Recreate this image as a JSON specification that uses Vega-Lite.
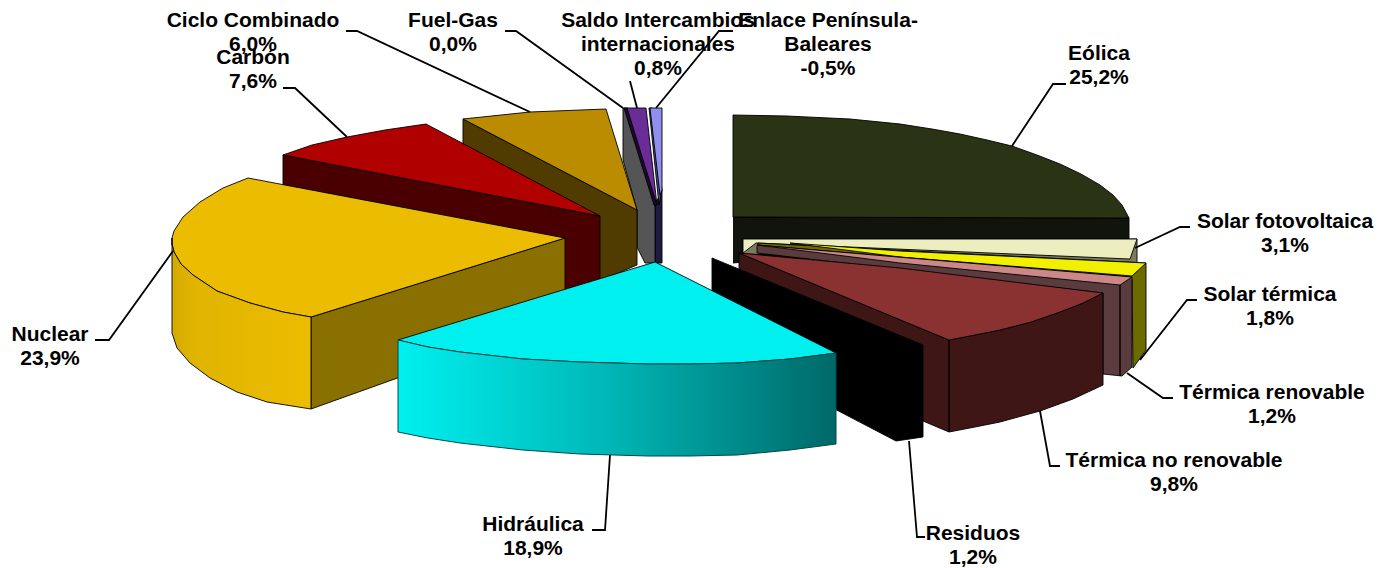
{"$schema":"https://vega.github.io/schema/vega-lite/v6.json","width":1391,"height":568,"padding":0,"autosize":{"type":"none"},"background":"white","config":{"view":{"stroke":null}},
"datasets":{
"shapes":[
{"part":"A Eólica lado","i":0,"x":733,"y":217},{"part":"A Eólica lado","i":1,"x":1129,"y":218},{"part":"A Eólica lado","i":2,"x":1129,"y":240},{"part":"A Eólica lado","i":3,"x":743,"y":262},{"part":"A Eólica lado","i":4,"x":733,"y":263},
{"part":"B Eólica","i":0,"x":733,"y":115},{"part":"B Eólica","i":1,"x":787,"y":116},{"part":"B Eólica","i":2,"x":850,"y":119},{"part":"B Eólica","i":3,"x":900,"y":124},{"part":"B Eólica","i":4,"x":932,"y":129},{"part":"B Eólica","i":5,"x":960,"y":134},{"part":"B Eólica","i":6,"x":987,"y":140},{"part":"B Eólica","i":7,"x":1012,"y":146},{"part":"B Eólica","i":8,"x":1037,"y":155},{"part":"B Eólica","i":9,"x":1060,"y":164},{"part":"B Eólica","i":10,"x":1081,"y":174},{"part":"B Eólica","i":11,"x":1100,"y":185},{"part":"B Eólica","i":12,"x":1113,"y":195},{"part":"B Eólica","i":13,"x":1122,"y":205},{"part":"B Eólica","i":14,"x":1129,"y":218},{"part":"B Eólica","i":15,"x":733,"y":217},{"part":"B Eólica","i":16,"x":733,"y":115},
{"part":"C Fotovoltaica lado","i":0,"x":743,"y":239},{"part":"C Fotovoltaica lado","i":1,"x":1137,"y":239},{"part":"C Fotovoltaica lado","i":2,"x":1137,"y":263},{"part":"C Fotovoltaica lado","i":3,"x":1130,"y":263},{"part":"C Fotovoltaica lado","i":4,"x":743,"y":254},{"part":"C Fotovoltaica lado","i":5,"x":743,"y":239},
{"part":"D Fotovoltaica","i":0,"x":743,"y":239},{"part":"D Fotovoltaica","i":1,"x":1137,"y":239},{"part":"D Fotovoltaica","i":2,"x":1130,"y":259},{"part":"D Fotovoltaica","i":3,"x":756,"y":243},{"part":"D Fotovoltaica","i":4,"x":743,"y":253},{"part":"D Fotovoltaica","i":5,"x":743,"y":239},
{"part":"E Térmica solar lado","i":0,"x":758,"y":243},{"part":"E Térmica solar lado","i":1,"x":1146,"y":263},{"part":"E Térmica solar lado","i":2,"x":1146,"y":350},{"part":"E Térmica solar lado","i":3,"x":1133,"y":368},{"part":"E Térmica solar lado","i":4,"x":1132,"y":280},{"part":"E Térmica solar lado","i":5,"x":758,"y":250},{"part":"E Térmica solar lado","i":6,"x":758,"y":243},
{"part":"F Térmica solar","i":0,"x":790,"y":243},{"part":"F Térmica solar","i":1,"x":900,"y":251},{"part":"F Térmica solar","i":2,"x":1146,"y":263},{"part":"F Térmica solar","i":3,"x":1132,"y":276},{"part":"F Térmica solar","i":4,"x":900,"y":257},{"part":"F Térmica solar","i":5,"x":790,"y":243},
{"part":"G Renovable lado","i":0,"x":757,"y":245},{"part":"G Renovable lado","i":1,"x":1132,"y":277},{"part":"G Renovable lado","i":2,"x":1132,"y":367},{"part":"G Renovable lado","i":3,"x":1122,"y":376},{"part":"G Renovable lado","i":4,"x":1103,"y":374},{"part":"G Renovable lado","i":5,"x":1103,"y":293},{"part":"G Renovable lado","i":6,"x":757,"y":253},{"part":"G Renovable lado","i":7,"x":757,"y":245},
{"part":"H Renovable","i":0,"x":757,"y":245},{"part":"H Renovable","i":1,"x":1132,"y":277},{"part":"H Renovable","i":2,"x":1120,"y":285},{"part":"H Renovable","i":3,"x":900,"y":263},{"part":"H Renovable","i":4,"x":757,"y":245},
{"part":"I Renovable borde","i":0,"x":1120,"y":285},{"part":"I Renovable borde","i":1,"x":1120,"y":376},{"part":"I Renovable borde","i":2,"x":1120,"y":285},
{"part":"J No renovable lado","i":0,"x":739,"y":253},{"part":"J No renovable lado","i":1,"x":949,"y":340},{"part":"J No renovable lado","i":2,"x":975,"y":335},{"part":"J No renovable lado","i":3,"x":1000,"y":330},{"part":"J No renovable lado","i":4,"x":1031,"y":322},{"part":"J No renovable lado","i":5,"x":1060,"y":312},{"part":"J No renovable lado","i":6,"x":1083,"y":303},{"part":"J No renovable lado","i":7,"x":1103,"y":293},{"part":"J No renovable lado","i":8,"x":1103,"y":385},{"part":"J No renovable lado","i":9,"x":1073,"y":399},{"part":"J No renovable lado","i":10,"x":1040,"y":411},{"part":"J No renovable lado","i":11,"x":1000,"y":422},{"part":"J No renovable lado","i":12,"x":975,"y":427},{"part":"J No renovable lado","i":13,"x":949,"y":432},{"part":"J No renovable lado","i":14,"x":923,"y":421},{"part":"J No renovable lado","i":15,"x":739,"y":270},{"part":"J No renovable lado","i":16,"x":739,"y":253},
{"part":"K No renovable","i":0,"x":739,"y":253},{"part":"K No renovable","i":1,"x":900,"y":268},{"part":"K No renovable","i":2,"x":1103,"y":293},{"part":"K No renovable","i":3,"x":1083,"y":303},{"part":"K No renovable","i":4,"x":1060,"y":312},{"part":"K No renovable","i":5,"x":1031,"y":322},{"part":"K No renovable","i":6,"x":1000,"y":330},{"part":"K No renovable","i":7,"x":975,"y":335},{"part":"K No renovable","i":8,"x":949,"y":340},{"part":"K No renovable","i":9,"x":739,"y":253},
{"part":"L Borde no renovable","i":0,"x":949,"y":340},{"part":"L Borde no renovable","i":1,"x":949,"y":432},{"part":"L Borde no renovable","i":2,"x":949,"y":340},
{"part":"M Residuos","i":0,"x":712,"y":258},{"part":"M Residuos","i":1,"x":923,"y":345},{"part":"M Residuos","i":2,"x":923,"y":437},{"part":"M Residuos","i":3,"x":896,"y":441},{"part":"M Residuos","i":4,"x":712,"y":345},{"part":"M Residuos","i":5,"x":712,"y":258},
{"part":"N Enlace lado","i":0,"x":655,"y":205},{"part":"N Enlace lado","i":1,"x":662,"y":190},{"part":"N Enlace lado","i":2,"x":662,"y":263},{"part":"N Enlace lado","i":3,"x":655,"y":263},{"part":"N Enlace lado","i":4,"x":655,"y":205},
{"part":"O Enlace borde","i":0,"x":649,"y":108},{"part":"O Enlace borde","i":1,"x":652,"y":108},{"part":"O Enlace borde","i":2,"x":662,"y":190},{"part":"O Enlace borde","i":3,"x":659,"y":205},{"part":"O Enlace borde","i":4,"x":649,"y":108},
{"part":"P Enlace","i":0,"x":650,"y":108},{"part":"P Enlace","i":1,"x":662,"y":108},{"part":"P Enlace","i":2,"x":662,"y":190},{"part":"P Enlace","i":3,"x":660,"y":195},{"part":"P Enlace","i":4,"x":650,"y":108},
{"part":"Q Fuel-Gas","i":0,"x":623,"y":108},{"part":"Q Fuel-Gas","i":1,"x":627,"y":108},{"part":"Q Fuel-Gas","i":2,"x":655,"y":207},{"part":"Q Fuel-Gas","i":3,"x":655,"y":263},{"part":"Q Fuel-Gas","i":4,"x":645,"y":263},{"part":"Q Fuel-Gas","i":5,"x":637,"y":247},{"part":"Q Fuel-Gas","i":6,"x":637,"y":210},{"part":"Q Fuel-Gas","i":7,"x":623,"y":160},{"part":"Q Fuel-Gas","i":8,"x":623,"y":108},
{"part":"R Saldo lado","i":0,"x":624,"y":108},{"part":"R Saldo lado","i":1,"x":628,"y":108},{"part":"R Saldo lado","i":2,"x":657,"y":205},{"part":"R Saldo lado","i":3,"x":654,"y":205},{"part":"R Saldo lado","i":4,"x":624,"y":108},
{"part":"S Saldo","i":0,"x":627,"y":108},{"part":"S Saldo","i":1,"x":646,"y":108},{"part":"S Saldo","i":2,"x":657,"y":205},{"part":"S Saldo","i":3,"x":627,"y":108},
{"part":"T Ciclo lado","i":0,"x":463,"y":119},{"part":"T Ciclo lado","i":1,"x":637,"y":210},{"part":"T Ciclo lado","i":2,"x":637,"y":265},{"part":"T Ciclo lado","i":3,"x":590,"y":285},{"part":"T Ciclo lado","i":4,"x":463,"y":175},{"part":"T Ciclo lado","i":5,"x":463,"y":119},
{"part":"U Ciclo","i":0,"x":463,"y":119},{"part":"U Ciclo","i":1,"x":530,"y":112},{"part":"U Ciclo","i":2,"x":606,"y":109},{"part":"U Ciclo","i":3,"x":637,"y":210},{"part":"U Ciclo","i":4,"x":463,"y":119},
{"part":"V Carbón lado","i":0,"x":283,"y":155},{"part":"V Carbón lado","i":1,"x":600,"y":216},{"part":"V Carbón lado","i":2,"x":600,"y":285},{"part":"V Carbón lado","i":3,"x":565,"y":300},{"part":"V Carbón lado","i":4,"x":283,"y":220},{"part":"V Carbón lado","i":5,"x":283,"y":155},
{"part":"W Carbón","i":0,"x":283,"y":155},{"part":"W Carbón","i":1,"x":312,"y":145},{"part":"W Carbón","i":2,"x":347,"y":137},{"part":"W Carbón","i":3,"x":385,"y":130},{"part":"W Carbón","i":4,"x":426,"y":124},{"part":"W Carbón","i":5,"x":600,"y":216},{"part":"W Carbón","i":6,"x":283,"y":155},
{"part":"X Nuclear lado","i":0,"x":311,"y":317},{"part":"X Nuclear lado","i":1,"x":565,"y":238},{"part":"X Nuclear lado","i":2,"x":565,"y":318},{"part":"X Nuclear lado","i":3,"x":311,"y":409},{"part":"X Nuclear lado","i":4,"x":311,"y":317},
{"part":"Y Nuclear","i":0,"x":248,"y":178},{"part":"Y Nuclear","i":1,"x":565,"y":238},{"part":"Y Nuclear","i":2,"x":311,"y":317},{"part":"Y Nuclear","i":3,"x":283,"y":312},{"part":"Y Nuclear","i":4,"x":250,"y":303},{"part":"Y Nuclear","i":5,"x":217,"y":291},{"part":"Y Nuclear","i":6,"x":193,"y":275},{"part":"Y Nuclear","i":7,"x":181,"y":264},{"part":"Y Nuclear","i":8,"x":174,"y":252},{"part":"Y Nuclear","i":9,"x":172,"y":244},{"part":"Y Nuclear","i":10,"x":172,"y":238},{"part":"Y Nuclear","i":11,"x":174,"y":231},{"part":"Y Nuclear","i":12,"x":183,"y":217},{"part":"Y Nuclear","i":13,"x":200,"y":202},{"part":"Y Nuclear","i":14,"x":223,"y":188},{"part":"Y Nuclear","i":15,"x":248,"y":178},
{"part":"Z Hidráulica","i":0,"x":655,"y":262},{"part":"Z Hidráulica","i":1,"x":836,"y":353},{"part":"Z Hidráulica","i":2,"x":790,"y":359},{"part":"Z Hidráulica","i":3,"x":737,"y":363},{"part":"Z Hidráulica","i":4,"x":690,"y":364},{"part":"Z Hidráulica","i":5,"x":648,"y":364},{"part":"Z Hidráulica","i":6,"x":580,"y":362},{"part":"Z Hidráulica","i":7,"x":523,"y":359},{"part":"Z Hidráulica","i":8,"x":460,"y":352},{"part":"Z Hidráulica","i":9,"x":428,"y":347},{"part":"Z Hidráulica","i":10,"x":398,"y":340},{"part":"Z Hidráulica","i":11,"x":655,"y":262}
],
"nuclearCurva":[
{"i":0,"x":172,"y":238},{"i":1,"x":172,"y":244},{"i":2,"x":174,"y":252},{"i":3,"x":181,"y":264},{"i":4,"x":193,"y":275},{"i":5,"x":217,"y":291},{"i":6,"x":250,"y":303},{"i":7,"x":283,"y":312},{"i":8,"x":311,"y":317},{"i":9,"x":311,"y":409},{"i":10,"x":267,"y":402},{"i":11,"x":237,"y":392},{"i":12,"x":210,"y":378},{"i":13,"x":190,"y":363},{"i":14,"x":177,"y":348},{"i":15,"x":172,"y":333},{"i":16,"x":172,"y":238}
],
"hidraulicaCurva":[
{"i":0,"x":398,"y":340},{"i":1,"x":428,"y":347},{"i":2,"x":460,"y":352},{"i":3,"x":523,"y":359},{"i":4,"x":580,"y":362},{"i":5,"x":648,"y":364},{"i":6,"x":690,"y":364},{"i":7,"x":737,"y":363},{"i":8,"x":790,"y":359},{"i":9,"x":836,"y":353},{"i":10,"x":836,"y":444},{"i":11,"x":790,"y":450},{"i":12,"x":737,"y":455},{"i":13,"x":690,"y":456},{"i":14,"x":648,"y":456},{"i":15,"x":580,"y":454},{"i":16,"x":523,"y":450},{"i":17,"x":460,"y":443},{"i":18,"x":428,"y":438},{"i":19,"x":398,"y":432},{"i":20,"x":398,"y":340}
],
"guias":[
{"name":"Eólica","i":0,"x":1012,"y":146},{"name":"Eólica","i":1,"x":1053,"y":84},{"name":"Eólica","i":2,"x":1066,"y":84},
{"name":"Solar fotovoltaica","i":0,"x":1135,"y":248},{"name":"Solar fotovoltaica","i":1,"x":1180,"y":227},{"name":"Solar fotovoltaica","i":2,"x":1190,"y":227},
{"name":"Solar térmica","i":0,"x":1140,"y":360},{"name":"Solar térmica","i":1,"x":1187,"y":300},{"name":"Solar térmica","i":2,"x":1197,"y":300},
{"name":"Térmica renovable","i":0,"x":1127,"y":373},{"name":"Térmica renovable","i":1,"x":1163,"y":398},{"name":"Térmica renovable","i":2,"x":1173,"y":398},
{"name":"Térmica no renovable","i":0,"x":1040,"y":411},{"name":"Térmica no renovable","i":1,"x":1050,"y":466},{"name":"Térmica no renovable","i":2,"x":1060,"y":466},
{"name":"Residuos","i":0,"x":909,"y":441},{"name":"Residuos","i":1,"x":917,"y":537},{"name":"Residuos","i":2,"x":925,"y":537},
{"name":"Hidráulica","i":0,"x":610,"y":455},{"name":"Hidráulica","i":1,"x":605,"y":530},{"name":"Hidráulica","i":2,"x":592,"y":530},
{"name":"Nuclear","i":0,"x":173,"y":251},{"name":"Nuclear","i":1,"x":109,"y":340},{"name":"Nuclear","i":2,"x":95,"y":340},
{"name":"Carbón","i":0,"x":347,"y":137},{"name":"Carbón","i":1,"x":295,"y":88},{"name":"Carbón","i":2,"x":283,"y":88},
{"name":"Ciclo Combinado","i":0,"x":530,"y":112},{"name":"Ciclo Combinado","i":1,"x":357,"y":31},{"name":"Ciclo Combinado","i":2,"x":346,"y":31},
{"name":"Fuel-Gas","i":0,"x":623,"y":108},{"name":"Fuel-Gas","i":1,"x":516,"y":31},{"name":"Fuel-Gas","i":2,"x":505,"y":31},
{"name":"Saldo","i":0,"x":637,"y":108},{"name":"Saldo","i":1,"x":630,"y":81},
{"name":"Enlace","i":0,"x":656,"y":108},{"name":"Enlace","i":1,"x":719,"y":31},{"name":"Enlace","i":2,"x":733,"y":31}
],
"etiquetas":[
{"label":"Ciclo Combinado\n6,0%","value":6.0,"x":253,"y":27},
{"label":"Carbón\n7,6%","value":7.6,"x":253,"y":64},
{"label":"Fuel-Gas\n0,0%","value":0.0,"x":453,"y":27},
{"label":"Saldo Intercambios\ninternacionales\n0,8%","value":0.8,"x":658,"y":27},
{"label":"Enlace Península-\nBaleares\n-0,5%","value":-0.5,"x":828,"y":27},
{"label":"Eólica\n25,2%","value":25.2,"x":1099,"y":60},
{"label":"Solar fotovoltaica\n3,1%","value":3.1,"x":1285,"y":228},
{"label":"Solar térmica\n1,8%","value":1.8,"x":1270,"y":301},
{"label":"Térmica renovable\n1,2%","value":1.2,"x":1272,"y":399},
{"label":"Térmica no renovable\n9,8%","value":9.8,"x":1174,"y":467},
{"label":"Residuos\n1,2%","value":1.2,"x":973,"y":540},
{"label":"Hidráulica\n18,9%","value":18.9,"x":533,"y":531},
{"label":"Nuclear\n23,9%","value":23.9,"x":50,"y":341}
]},
"encoding":{"x":{"field":"x","type":"quantitative","scale":{"domain":[0,1391],"nice":false,"zero":false},"axis":null},"y":{"field":"y","type":"quantitative","scale":{"domain":[568,0],"nice":false,"zero":false},"axis":null}},
"layer":[
{"data":{"name":"shapes"},"mark":{"type":"line","stroke":"#000000","strokeWidth":0.9,"strokeJoin":"round"},
"encoding":{"order":{"field":"i","type":"quantitative"},
"fill":{"field":"part","type":"nominal","legend":null,"sort":null,"scale":{"domain":["A Eólica lado","B Eólica","C Fotovoltaica lado","D Fotovoltaica","E Térmica solar lado","F Térmica solar","G Renovable lado","H Renovable","I Renovable borde","J No renovable lado","K No renovable","L Borde no renovable","M Residuos","N Enlace lado","O Enlace borde","P Enlace","Q Fuel-Gas","R Saldo lado","S Saldo","T Ciclo lado","U Ciclo","V Carbón lado","W Carbón","X Nuclear lado","Y Nuclear","Z Hidráulica"],"range":["#10140a","#2a3314","#7b7b5e","#ededc0","#6b6b00","#f0f000","#5a3c3e","#cc8888","#5a3c3e","#3e1616","#8a3232","#3e1616","#000000","#1e1a40","#4a4a80","#8f8ff0","#555555","#1e0a30","#6a2c96","#503c00","#bc8c00","#4a0000","#b00000","#8a7000","#ecbc00","#00f0f0"]}}}},
{"data":{"name":"nuclearCurva"},"mark":{"type":"line","stroke":"#000000","strokeWidth":0.9,"fill":{"gradient":"linear","x1":0,"x2":1,"y1":0,"y2":0,"stops":[{"offset":0,"color":"#d4aa00"},{"offset":0.15,"color":"#e0b400"},{"offset":1,"color":"#ecbc00"}]}},"encoding":{"order":{"field":"i","type":"quantitative"}}},
{"data":{"name":"hidraulicaCurva"},"mark":{"type":"line","stroke":"#004a4a","strokeWidth":1,"fill":{"gradient":"linear","x1":0,"x2":1,"y1":0,"y2":0,"stops":[{"offset":0,"color":"#00f0f0"},{"offset":0.5,"color":"#00b4b4"},{"offset":1,"color":"#006868"}]}},"encoding":{"order":{"field":"i","type":"quantitative"}}},
{"data":{"name":"guias"},"mark":{"type":"line","stroke":"#000000","strokeWidth":1.8},"encoding":{"detail":{"field":"name"},"order":{"field":"i","type":"quantitative"}}},
{"data":{"name":"etiquetas"},"mark":{"type":"text","font":"Liberation Sans","fontWeight":"bold","fontSize":21,"lineHeight":24,"lineBreak":"\n","align":"center","baseline":"alphabetic","color":"#000000"},"encoding":{"text":{"field":"label"}}}
]}
